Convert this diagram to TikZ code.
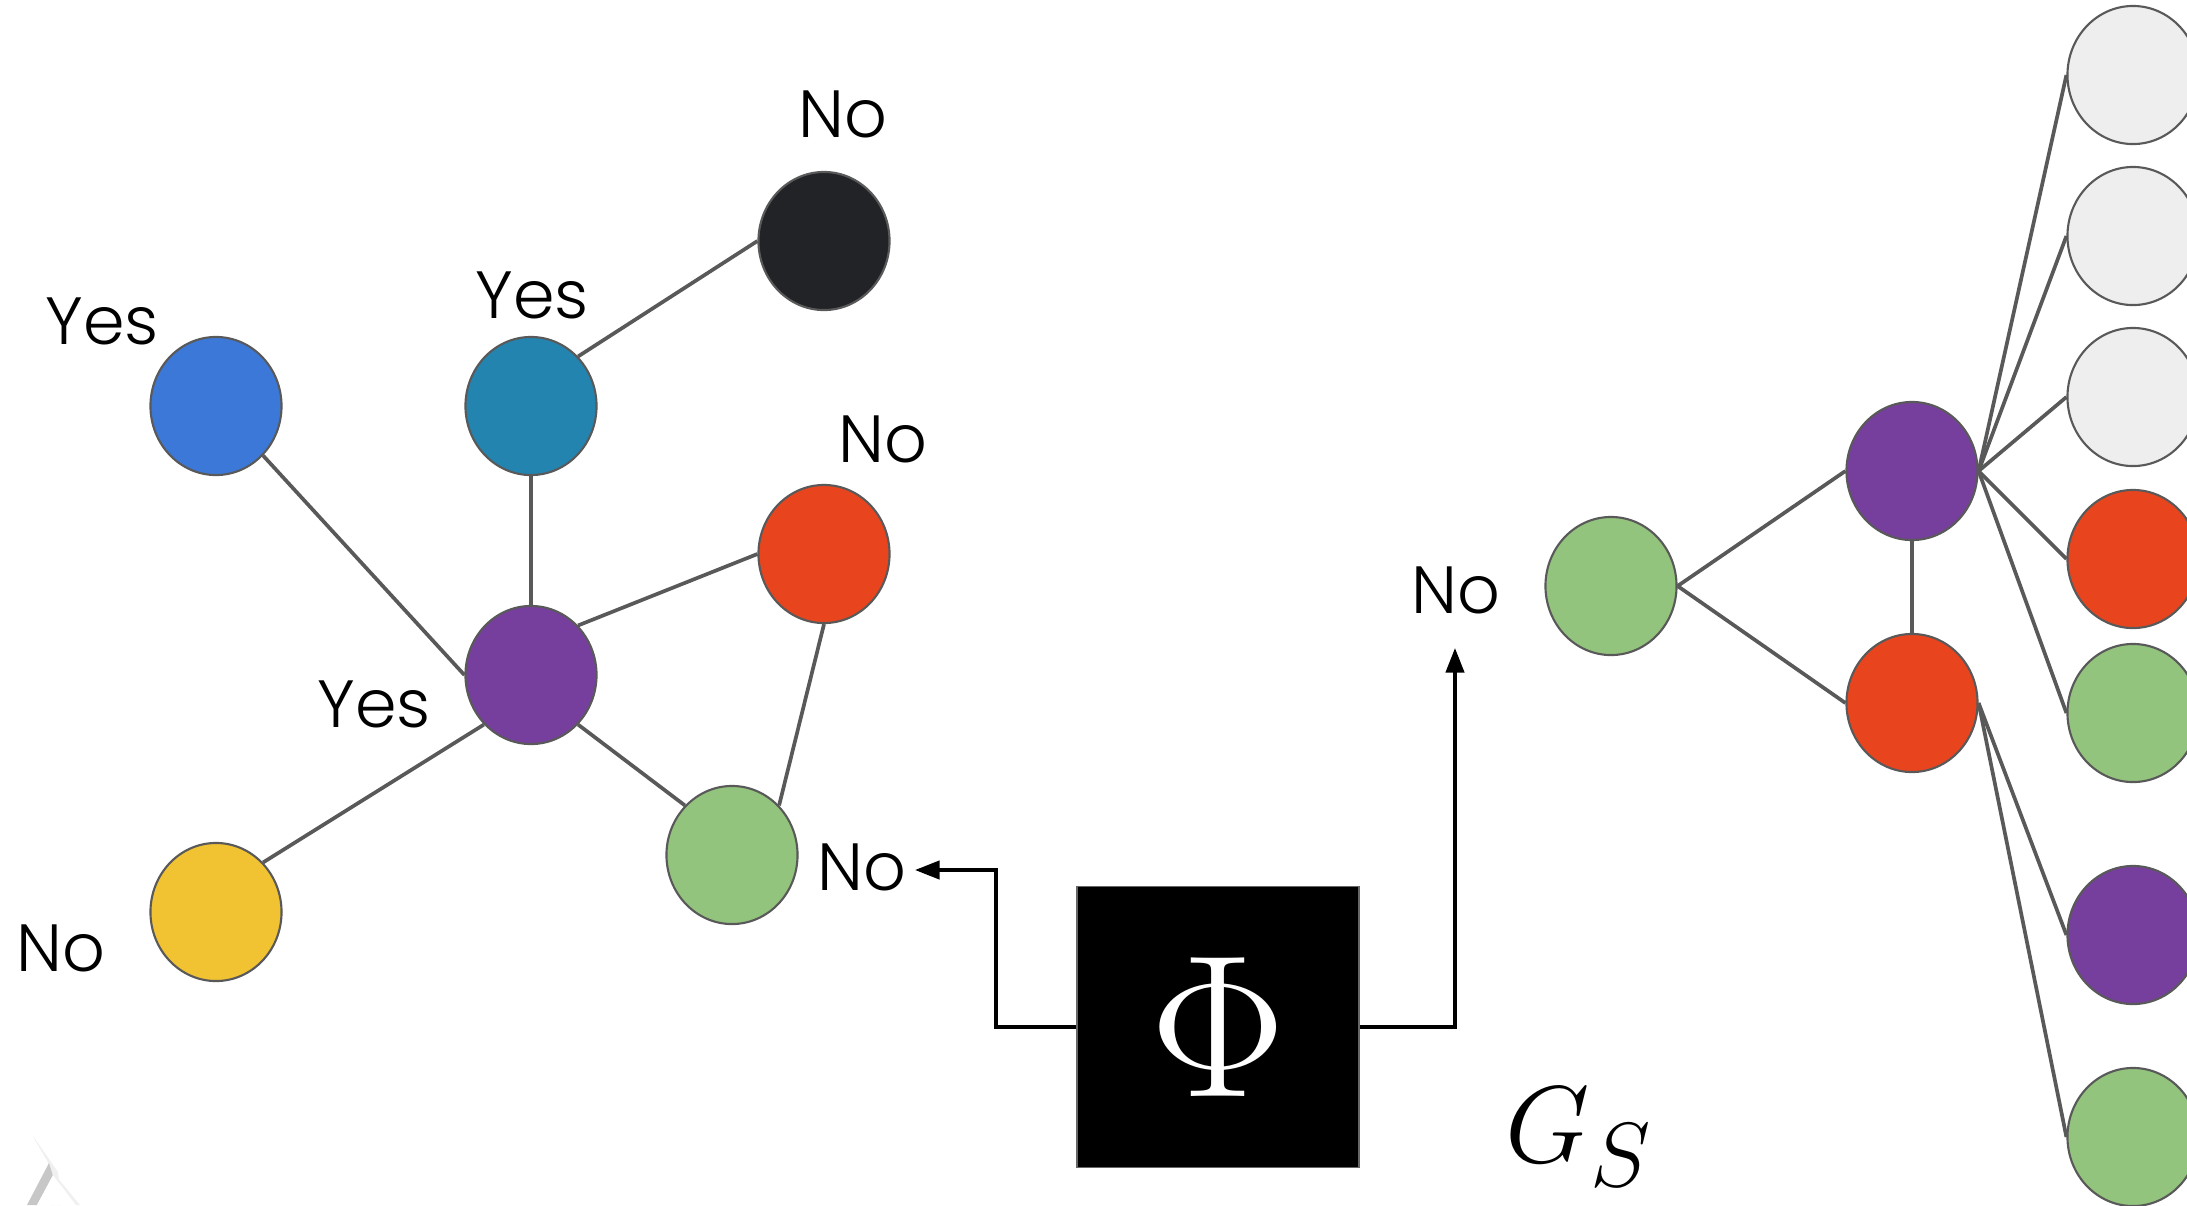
\documentclass[tikz,border=0pt]{standalone}
\usepackage{fontspec}
\setmainfont{Poppins Light}
\usetikzlibrary{shapes.geometric,arrows.meta}
\definecolor{edgegray}{HTML}{595959}
\definecolor{cBlue}{HTML}{3C78D8}
\definecolor{cTeal}{HTML}{2484B0}
\definecolor{cBlack}{HTML}{212326}
\definecolor{cRed}{HTML}{E8451F}
\definecolor{cPurple}{HTML}{763F9E}
\definecolor{cGreen}{HTML}{93C47D}
\definecolor{cYellow}{HTML}{F1C232}
\definecolor{cLight}{HTML}{EEEEEE}
\begin{document}
\begin{tikzpicture}[x=0.01cm,y=-0.01cm,
  gnode/.style={ellipse,draw=edgegray,line width=0.6pt,minimum width=1.31cm,minimum height=1.38cm,inner sep=0pt},
  edge/.style={draw=edgegray,line width=1.05pt},
  lbl/.style={font=\fontsize{19}{22}\selectfont,inner sep=0pt},
  flow/.style={draw=black,line width=1pt,-{Triangle[length=7pt,width=5.2pt]}},
  phibox/.style={fill=black,draw=black!60,line width=0.5pt,minimum width=2.82cm,minimum height=2.81cm,inner sep=0pt,text=white}]
\useasboundingbox (0,0) rectangle (2187,1205);
\fill[white] (0,0) rectangle (2187,1205);

% logo fragment bottom-left
\fill[black!6] (33,1136) -- (58,1172) -- (62,1205) -- (50,1205) -- cycle;
\fill[white] (32,1135) -- (-30,1205) -- (52,1205) -- (50,1166) -- cycle;
\fill[black!22] (49,1163) -- (27,1205) -- (37,1205) -- (53,1176) -- cycle;
\fill[black!6] (54,1176) -- (76,1205) -- (80,1205) -- (56,1176) -- cycle;
\fill[white] (53,1175) -- (37,1205) -- (74,1205) -- cycle;

% left graph
\node[gnode,fill=cBlack]  (black)  at (824,241) {};
\node[gnode,fill=cBlue]   (blue)   at (216,406) {};
\node[gnode,fill=cTeal]   (teal)   at (531,406) {};
\node[gnode,fill=cRed]    (red)    at (824,554) {};
\node[gnode,fill=cPurple] (purple) at (531,675) {};
\node[gnode,fill=cGreen]  (green)  at (732,855) {};
\node[gnode,fill=cYellow] (yellow) at (216,912) {};

\draw[edge] (teal.north east) -- (black.west);
\draw[edge] (blue.south east) -- (purple.west);
\draw[edge] (teal.south) -- (purple.north);
\draw[edge] (purple.north east) -- (red.west);
\draw[edge] (purple.south east) -- (green.north west);
\draw[edge] (red.south) -- (green.north east);
\draw[edge] (purple.south west) -- (yellow.north east);

\node[lbl] (lNoTop)    at (843,114) {No};
\node[lbl] (lYesBlue)  at (102,321) {Yes};
\node[lbl] (lYesTeal)  at (532,295) {Yes};
\node[lbl] (lNoRed)    at (883,439) {No};
\node[lbl] (lYesPurp)  at (374,704) {Yes};
\node[lbl] (lNoGreen)  at (862,867) {No};
\node[lbl] (lNoYellow) at (61,948)  {No};
\node[lbl] (lNoMid)    at (1456,590) {No};

% Phi box and arrows
\node[phibox] (phi) at (1218,1027) {\scalebox{2.32}{\Huge$\Phi$}};
\coordinate (tipL) at (915,870);
\coordinate (tipR) at (1455,648);
\draw[flow] (phi.west) -- (996,1027) |- (tipL);
\draw[flow] (phi.east) -| (tipR);

\node[anchor=base west,inner sep=0pt] (gs) at (1505,1162) {\scalebox{1.25}{\Huge$G_S$}};

% right graph
\node[gnode,fill=cGreen]  (rgreen)  at (1611,586) {};
\node[gnode,fill=cPurple] (rpurple) at (1912,471) {};
\node[gnode,fill=cRed]    (rred)    at (1912,703) {};

\node[gnode,fill=cLight]  (c1) at (2133,75) {};
\node[gnode,fill=cLight]  (c2) at (2133,236) {};
\node[gnode,fill=cLight]  (c3) at (2133,397) {};
\node[gnode,fill=cRed]    (c4) at (2133,559) {};
\node[gnode,fill=cGreen]  (c5) at (2133,713) {};
\node[gnode,fill=cPurple] (c6) at (2133,935) {};
\node[gnode,fill=cGreen]  (c7) at (2133,1137) {};

\draw[edge] (rgreen.east) -- (rpurple.west);
\draw[edge] (rgreen.east) -- (rred.west);
\draw[edge] (rpurple.south) -- (rred.north);
\foreach \c in {c1,c2,c3,c4,c5} \draw[edge] (rpurple.east) -- (\c.west);
\foreach \c in {c6,c7} \draw[edge] (rred.east) -- (\c.west);
\end{tikzpicture}
\end{document}
